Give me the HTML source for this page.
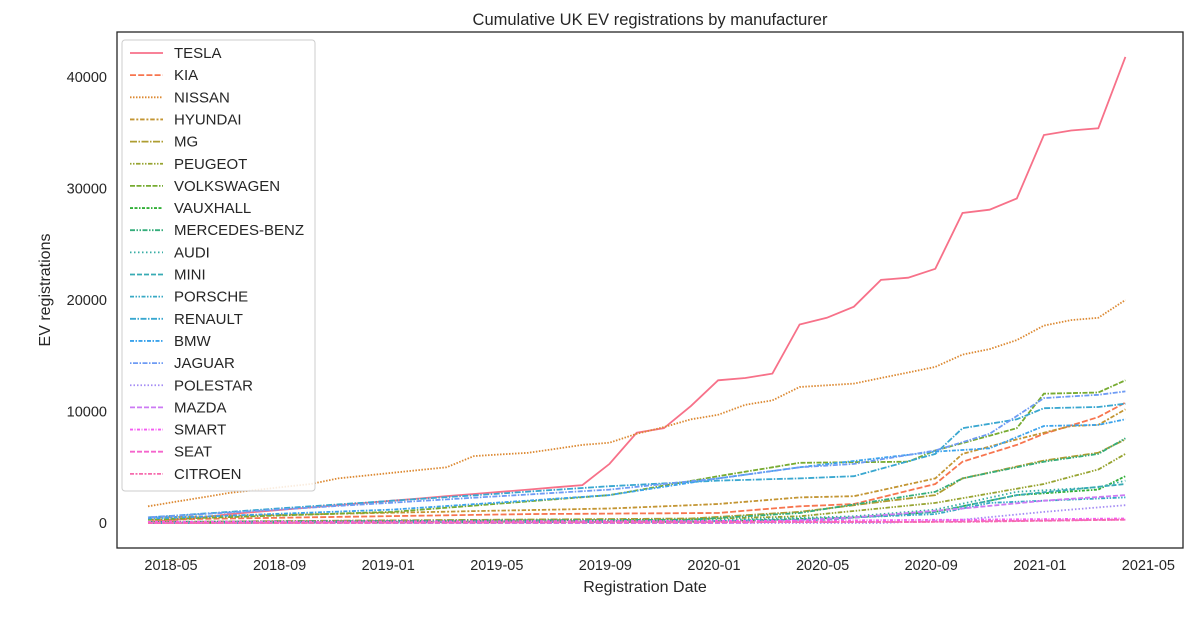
<!DOCTYPE html>
<html><head><meta charset="utf-8"><style>
body{margin:0;background:#fff}
svg text{font-family:"Liberation Sans",Arial,sans-serif;fill:#262626}
</style></head><body>
<svg id="s" width="1200" height="618" xmlns="http://www.w3.org/2000/svg">
<rect x="0" y="0" width="1200" height="618" fill="#fff"/>
<text x="650" y="25" font-size="16.5" text-anchor="middle">Cumulative UK EV registrations by manufacturer</text>
<text transform="translate(50,290) rotate(-90)" font-size="16" text-anchor="middle">EV registrations</text>
<text x="645" y="592" font-size="16" text-anchor="middle">Registration Date</text>
<g id="plot"></g>
<rect x="117" y="32" width="1066" height="516" fill="none" stroke="#262626" stroke-width="1.3"/>
</svg>
<script>
const NS="http://www.w3.org/2000/svg";
const s=document.getElementById('s'),p=document.getElementById('plot');
function el(t,a,par){const e=document.createElementNS(NS,t);for(const k in a)e.setAttribute(k,a[k]);(par||s).appendChild(e);return e;}
const Y=v=>523-v*11.15, X=i=>148+i*27.15;
[0,10,20,30,40].forEach(v=>{const t=el('text',{x:107,y:Y(v)+5,'font-size':14.5,'text-anchor':'end'});t.textContent=v?v*1000:'0';});
['2018-05','2018-09','2019-01','2019-05','2019-09','2020-01','2020-05','2020-09','2021-01','2021-05'].forEach((l,i)=>{const t=el('text',{x:171+i*108.6,y:570,'font-size':14.5,'text-anchor':'middle'});t.textContent=l;});
function interp(k){
 const o=[];for(let i=0;i<37;i++){let j=0;while(j<k.length-1&&k[j+1][0]<i)j++;const a=k[j],b=k[Math.min(j+1,k.length-1)];const t=b[0]==a[0]?0:(i-a[0])/(b[0]-a[0]);o.push(a[1]+(b[1]-a[1])*Math.max(0,Math.min(1,t)));}return o;}
const tesla=[0.1,0.3,0.5,0.8,1.0,1.2,1.4,1.6,1.8,2.0,2.2,2.4,2.6,2.8,3.0,3.2,3.4,5.3,8.1,8.5,10.5,12.8,13.0,13.4,17.8,18.4,19.4,21.8,22.0,22.8,27.8,28.1,29.1,34.8,35.2,35.4,41.8];
const S=[
['TESLA','#f77189','',tesla],
['KIA','#f7754f','6,2.2',interp([[0,.3],[14,.8],[21,.9],[24,1.5],[26,1.7],[29,3.5],[30,5.5],[32,7],[33,8],[35,9.5],[36,10.8]])],
['NISSAN','#dc8932','1.5,1.5',interp([[0,1.5],[3,2.7],[6,3.5],[7,4],[9,4.5],[11,5],[12,6],[14,6.3],[16,7],[17,7.2],[18,8],[19,8.6],[20,9.3],[21,9.7],[22,10.6],[23,11],[24,12.2],[26,12.5],[27,13],[28,13.5],[29,14],[30,15.1],[31,15.6],[32,16.4],[33,17.7],[34,18.2],[35,18.4],[36,20]])],
['HYUNDAI','#c39532','4.5,1.8,2,1.8',interp([[0,.5],[17,1.3],[21,1.7],[24,2.3],[26,2.4],[29,4],[30,6.2],[32,7.5],[34,8.7],[35,8.8],[36,10.2]])],
['MG','#ae9d31','7,1.5,1.5,1.5',interp([[0,.1],[20,.4],[24,1],[29,2.5],[30,4],[33,5.6],[35,6.3],[36,7.5]])],
['PEUGEOT','#97a431','1.5,1.5,1.5,1.5,4.5,1.5',interp([[0,0],[18,.2],[24,.6],[29,1.8],[33,3.5],[35,4.8],[36,6.2]])],
['VOLKSWAGEN','#77ab31','5,1.5,5,1.5,1.5,1.5',interp([[0,.3],[9,1],[17,2.5],[21,4.2],[24,5.4],[28,5.5],[29,6.5],[32,8.5],[33,11.6],[35,11.7],[36,12.8]])],
['VAUXHALL','#33b039','3,1.5,3,1.5,1.5,1.5',interp([[0,0],[20,.1],[26,.5],[29,1],[32,2.5],[35,3],[36,4.2]])],
['MERCEDES-BENZ','#35ad7b','5,1.5,1.5,1.5,1.5,1.5',interp([[0,.1],[20,.3],[24,.9],[29,2.8],[30,4],[33,5.5],[35,6.2],[36,7.6]])],
['AUDI','#36ada4','1.5,2.5',interp([[0,0],[20,.2],[26,.6],[29,1.2],[32,2.8],[35,3.2],[36,3.8]])],
['MINI','#37abb4','5,2',interp([[0,0],[21,0],[25,.3],[29,1],[32,2.5],[36,3.5]])],
['PORSCHE','#38a9c5','4,1.5,1.5,1.5,1.5,1.5',interp([[0,0],[19,.1],[24,.3],[29,.8],[31,1.8],[36,2.3]])],
['RENAULT','#39a7d0','6,1.5,1.5,1.5',interp([[0,.5],[9,2],[17,3.3],[21,3.8],[24,4],[26,4.2],[29,6.2],[30,8.5],[32,9.3],[33,10.3],[35,10.4],[36,10.7]])],
['BMW','#3ba3ec','4,1.5,1.5,1.5',interp([[0,.4],[9,1.2],[17,2.5],[21,4],[24,5],[29,6.4],[31,6.7],[33,8.7],[35,8.8],[36,9.3]])],
['JAGUAR','#6e9bf4','1.5,1.5,5,1.5',interp([[0,.5],[17,3],[21,4],[24,5],[26,5.3],[29,6.5],[31,8],[33,11.2],[35,11.5],[36,11.8]])],
['POLESTAR','#a48cf4','1.5,2',interp([[0,0],[27,0],[30,.3],[33,1],[36,1.6]])],
['MAZDA','#cc7af4','5,2',interp([[0,0],[22,0],[26,.5],[30,1.3],[33,2],[36,2.5]])],
['SMART','#f45cf2','3,1.5,1,1.5',interp([[0,.1],[24,.2],[36,.4]])],
['SEAT','#f565cc','5,2',interp([[0,0],[28,.1],[36,.3]])],
['CITROEN','#f66bad','4,1.5,2,1.5',interp([[0,0],[30,.1],[36,.3]])]
];
S.forEach((d,n)=>{
 const pts=d[3].map((v,i)=>X(i).toFixed(1)+','+Y(v).toFixed(1)).join(' ');
 const a={points:pts,fill:'none',stroke:d[1],'stroke-width':1.8};if(d[2])a['stroke-dasharray']=d[2];
 el('polyline',a,p);
});
el('rect',{x:122,y:40,width:193,height:451,rx:3,fill:'#fff','fill-opacity':0.85,stroke:'#ccc'},p);
S.forEach((d,n)=>{
 const y=53+n*22.15;const a={x1:130,y1:y,x2:163,y2:y,stroke:d[1],'stroke-width':1.8};if(d[2])a['stroke-dasharray']=d[2];
 el('line',a,p);const t=el('text',{x:174,y:y+5,'font-size':15},p);t.textContent=d[0];
});
</script>
</body></html>
